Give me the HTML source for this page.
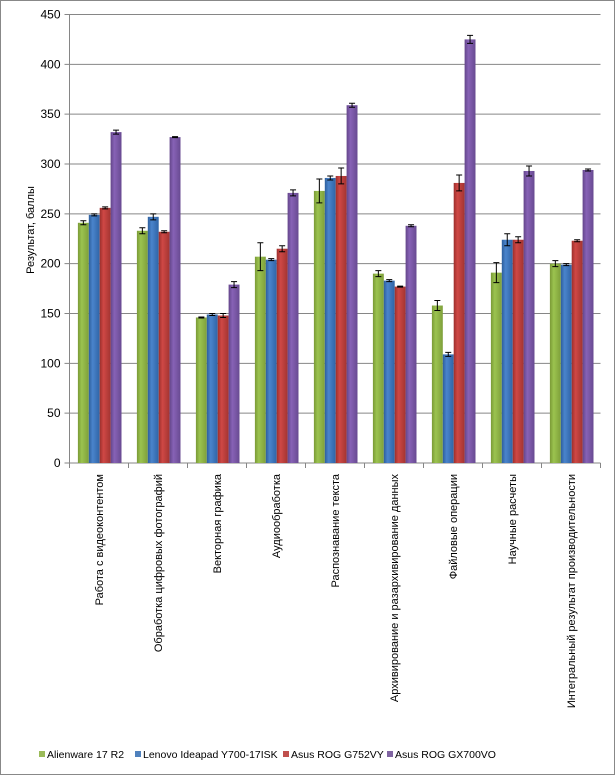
<!DOCTYPE html>
<html><head><meta charset="utf-8"><style>
body{margin:0;background:#fff}
svg{display:block;font-family:"Liberation Sans","DejaVu Sans",sans-serif}
</style></head><body>
<svg id="c" width="615" height="775">
<defs>
<linearGradient id="g0" x1="0" x2="1"><stop offset="0" stop-color="#7a9a36"/><stop offset=".35" stop-color="#9bc34f"/><stop offset="1" stop-color="#7e9f3a"/></linearGradient>
<linearGradient id="g1" x1="0" x2="1"><stop offset="0" stop-color="#2d5e9c"/><stop offset=".35" stop-color="#4a84cc"/><stop offset="1" stop-color="#2f64a6"/></linearGradient>
<linearGradient id="g2" x1="0" x2="1"><stop offset="0" stop-color="#9c2f2c"/><stop offset=".35" stop-color="#cf4845"/><stop offset="1" stop-color="#a33431"/></linearGradient>
<linearGradient id="g3" x1="0" x2="1"><stop offset="0" stop-color="#63468a"/><stop offset=".35" stop-color="#8762b6"/><stop offset="1" stop-color="#684a91"/></linearGradient>
</defs>
<rect x="0.5" y="0.5" width="614" height="774" fill="#fff" stroke="#888"/>
<g id="grid"></g><g id="bars"></g><g id="axes"></g>
<text transform="translate(34,230) rotate(-90)" text-anchor="middle" font-size="11" fill="#000">Результат, баллы</text>
<g id="legend" font-size="10.5"></g>
</svg>
<script>
const categories=["Работа с видеоконтентом","Обработка цифровых фотографий","Векторная графика","Аудиообработка","Распознавание текста","Архивирование и разархивирование данных","Файловые операции","Научные расчеты","Интегральный результат производительности"];
const seriesNames=["Alienware 17 R2","Lenovo Ideapad Y700-17ISK","Asus ROG G752VY","Asus ROG GX700VO"];
const alienware=[241,233,146,207,273,190,158,191,200];
const lenovo=[249,247,149,204,286,183,109,224,199];
const asusG752=[256,232,148,215,288,177,281,224,223];
const asusGX700=[332,327,179,271,359,238,425,293,294];
const errAlienware=[2,3,0.5,14,12,3,5,10,3];
const errLenovo=[1,3,1,1,2,1,2,6,1];
const errG752=[1,1,2,3,8,0.5,8,3,1];
const errGX700=[2,0.5,3,3,2,1,4,5,1];
const yTicks=[0,50,100,150,200,250,300,350,400,450];
const series=[alienware,lenovo,asusG752,asusGX700];
const errs=[errAlienware,errLenovo,errG752,errGX700];
const NS="http://www.w3.org/2000/svg";
const x0=69.5,x1=600.5,y0=463,yTop=14.5,yMax=450;
const y=v=>y0-(v/yMax)*(y0-yTop);
const cw=(x1-x0)/categories.length;
const fills=["url(#g0)","url(#g1)","url(#g2)","url(#g3)"];
const sw=["#9bbb59","#4f81bd","#c0504d","#8064a2"];
function mk(tag,attrs,parent){const e=document.createElementNS(NS,tag);for(const k in attrs)e.setAttribute(k,attrs[k]);parent.appendChild(e);return e;}
const grid=document.getElementById('grid'),bars=document.getElementById('bars'),axes=document.getElementById('axes'),leg=document.getElementById('legend');
yTicks.forEach(t=>{
 const l=mk('line',{x1:x0-5,x2:x1,y1:y(t),y2:y(t),stroke:'#868686','stroke-width':1},grid);
 
 
 const tx=mk('text',{x:x0-9,y:y(t)+4,'text-anchor':'end','font-size':12,fill:'#000'},axes);
 tx.textContent=t;
 
 
});
mk('line',{x1:x0,x2:x0,y1:yTop,y2:y0,stroke:'#868686'},axes);
for(let i=0;i<=categories.length;i++){mk('line',{x1:x0+i*cw,x2:x0+i*cw,y1:y0,y2:y0+5,stroke:'#868686'},axes);}
const bw=10.9,off=8.4;
categories.forEach((c,i)=>{
 const gx=x0+i*cw+off;
 series.forEach((s,j)=>{
  const bx=gx+j*bw,v=s[i];
  const r=mk('rect',{x:bx,y:y(v),width:bw,height:y0-y(v),fill:fills[j]},bars);
  
  
  const e=errs[j][i],cx=bx+bw/2;
  const eg=mk('path',{d:`M${cx},${y(v+e)}V${y(v-e)}M${cx-3},${y(v+e)}H${cx+3}M${cx-3},${y(v-e)}H${cx+3}`,stroke:'#000','stroke-width':1,fill:'none'},bars);
  
  
 });
 const cx=x0+(i+0.5)*cw+4;
 const t=mk('text',{transform:`translate(${cx},${y0+11}) rotate(-90)`,'text-anchor':'end','font-size':11,fill:'#000'},axes);
 t.textContent=c;
 
 
});
const lx=[39,135,283,387];
seriesNames.forEach((n,j)=>{
 const g=mk('g',{},leg);
 
 
 mk('rect',{x:lx[j],y:751,width:6,height:6,fill:sw[j]},g);
 const t=mk('text',{x:lx[j]+8,y:758,fill:'#000'},g);t.textContent=n;
});
</script>
</body></html>
